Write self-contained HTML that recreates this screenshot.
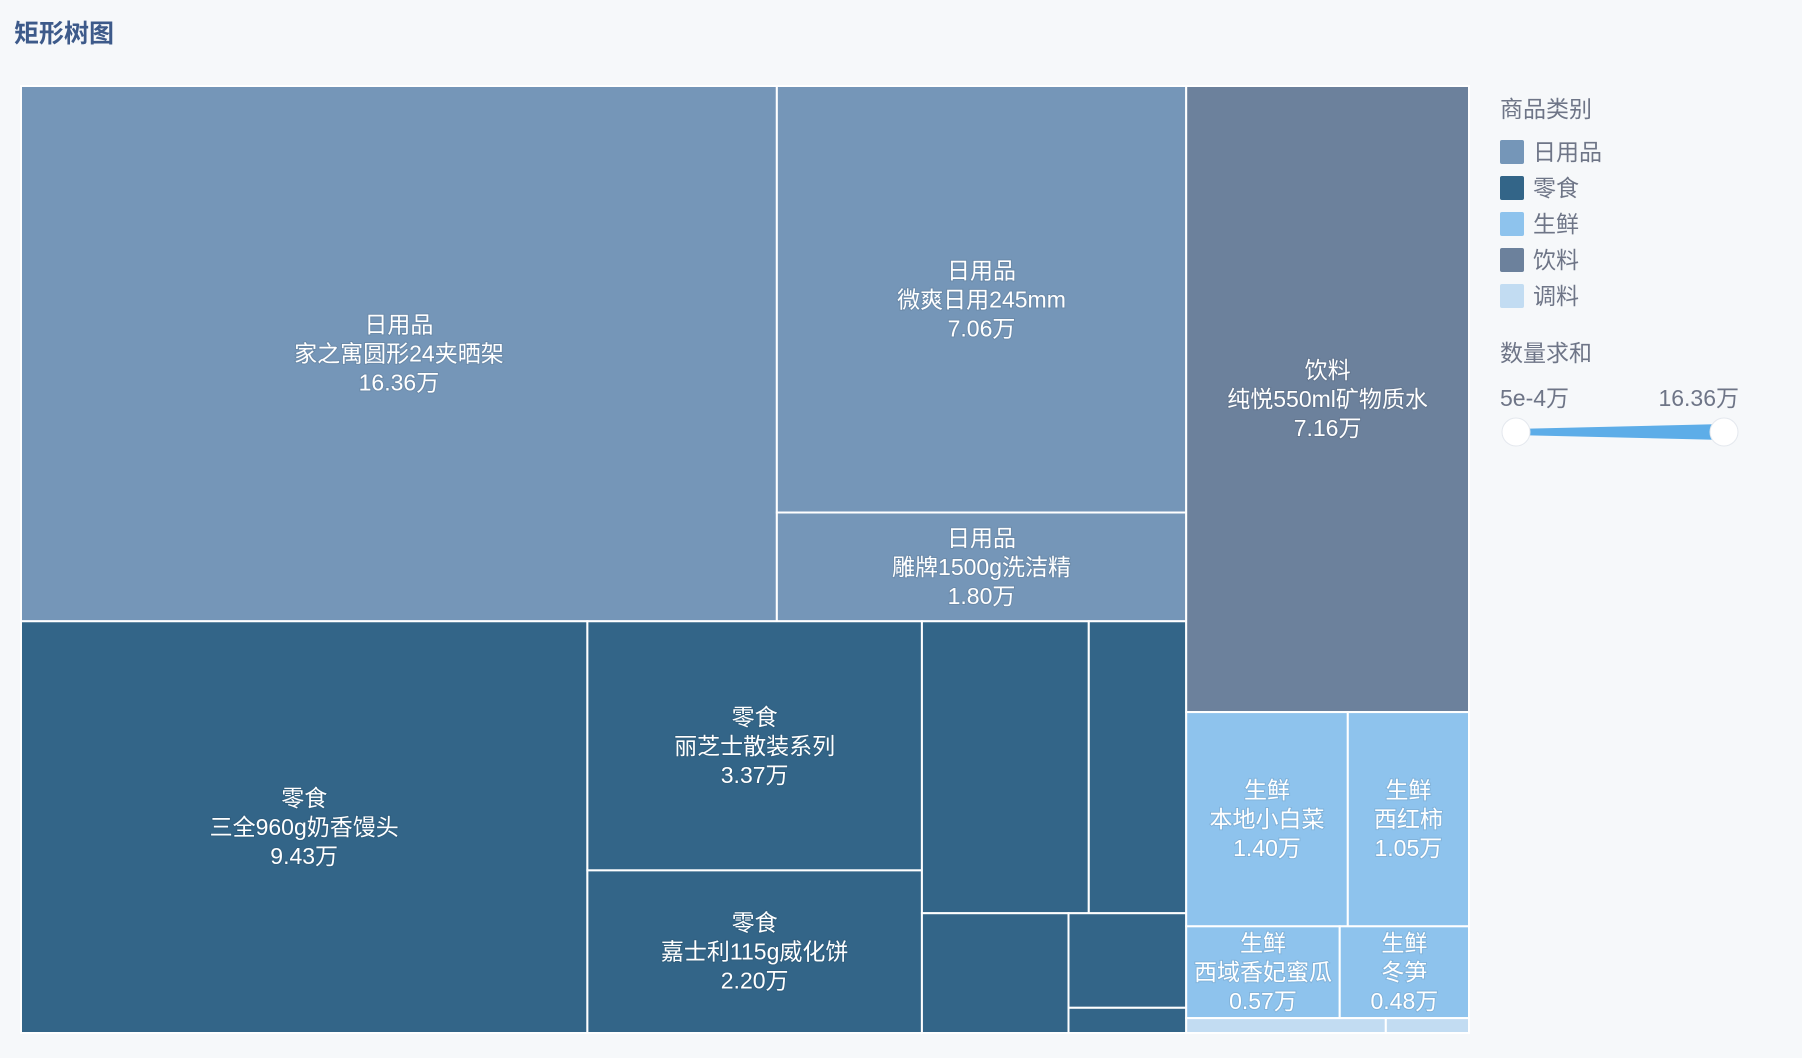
<!DOCTYPE html>
<html><head><meta charset="utf-8">
<style>
html,body{margin:0;padding:0;background:#f6f8fa;}
body{width:1802px;height:1058px;overflow:hidden;font-family:"Liberation Sans","Noto Sans CJK SC",sans-serif;}
svg{display:block}
</style></head>
<body>
<svg id="chart" width="1802" height="1058">
  <text x="14" y="42" font-size="25" font-weight="bold" fill="#3d5a8a">矩形树图</text>
  <g id="cells"></g>
  <g id="legend">
    <text x="1500" y="117" font-size="23" fill="#6e7587">商品类别</text>
  </g>
  <g>
    <text x="1500" y="361" font-size="23" fill="#6e7587">数量求和</text>
    <text x="1500" y="406" font-size="23" fill="#6e7587">5e-4万</text>
    <text x="1739" y="406" font-size="23" fill="#6e7587" text-anchor="end">16.36万</text>
    <polygon points="1516,429 1724,424 1724,440 1516,435" fill="#5dade8"/>
    <circle cx="1516" cy="432" r="14" fill="#fff" stroke="#e4e8ee" stroke-width="1"/>
    <circle cx="1724" cy="432" r="14" fill="#fff" stroke="#e4e8ee" stroke-width="1"/>
  </g>
</svg>
<script>
// data
const categories = ["日用品","零食","生鲜","饮料","调料"];
const categoryColors = ["#7596b8","#336588","#8ec3ed","#6c819c","#c2dcf2"];
const itemNames = ["家之寓圆形24夹晒架","微爽日用245mm","雕牌1500g洗洁精","三全960g奶香馒头","丽芝士散装系列","嘉士利115g威化饼","","","","","","纯悦550ml矿物质水","本地小白菜","西红柿","西域香妃蜜瓜","冬笋","",""];
const itemCats = [0,0,0,1,1,1,1,1,1,1,1,3,2,2,2,2,4,4];
const itemValues = [16.36,7.06,1.80,9.43,3.37,2.20,1.97,1.15,0.71,0.45,0.12,7.16,1.40,1.05,0.57,0.48,0.12,0.05];

// layout structure: 'h' = side by side, 'v' = stacked; leaves are item indexes
const tree = ['h',
  ['v',
    ['h', 0, ['v', 1, 2]],
    ['h', 3, ['v', 4, 5], ['v', ['h', 6, 7], ['h', 8, ['v', 9, 10]]]]
  ],
  ['v', 11, ['v', ['h', 12, 13], ['h', 14, 15]], ['h', 16, 17]]
];
const X0=21, Y0=86, X1=1469, Y1=1033;
function total(n){ return typeof n==='number' ? itemValues[n] : n.slice(1).reduce((s,c)=>s+total(c),0); }
const rects=[];
function layout(n,x,y,w,h){
  if(typeof n==='number'){ rects.push({i:n,x,y,w,h}); return; }
  const t=total(n); let off=0;
  n.slice(1).forEach(c=>{
    const f=total(c)/t;
    if(n[0]==='h'){ layout(c,x+off,y,w*f,h); off+=w*f; }
    else { layout(c,x,y+off,w,h*f); off+=h*f; }
  });
}
layout(tree,X0,Y0,X1-X0,Y1-Y0);
const NS="http://www.w3.org/2000/svg";
const g=document.getElementById('cells');
rects.forEach(r=>{
  const rect=document.createElementNS(NS,'rect');
  rect.setAttribute('x',r.x); rect.setAttribute('y',r.y);
  rect.setAttribute('width',Math.max(0,r.w)); rect.setAttribute('height',Math.max(0,r.h));
  rect.setAttribute('fill',categoryColors[itemCats[r.i]]);
  rect.setAttribute('stroke','#ffffff'); rect.setAttribute('stroke-width','2');
  
  
  g.appendChild(rect);
  if(itemNames[r.i]){
    const cx=r.x+r.w/2, cy=r.y+r.h/2;
    const lines=[categories[itemCats[r.i]], itemNames[r.i], itemValues[r.i].toFixed(2)+'万'];
    const t=document.createElementNS(NS,'text');
    t.setAttribute('text-anchor','middle'); t.setAttribute('font-size','23'); t.setAttribute('fill','#fff');
    t.setAttribute('style','paint-order:stroke;stroke:rgba(0,0,0,0.08);stroke-width:2px');
    
    
    lines.forEach((l,k)=>{
      const s=document.createElementNS(NS,'tspan');
      s.setAttribute('x',cx); s.setAttribute('y',cy+(k-1)*29+8);
      s.textContent=l; t.appendChild(s);
    });
    g.appendChild(t);
  }
});
const lg=document.getElementById('legend');
categories.forEach((c,k)=>{
  const y=152+k*36;
  const sw=document.createElementNS(NS,'rect');
  sw.setAttribute('x',1500); sw.setAttribute('y',y-12); sw.setAttribute('width',24); sw.setAttribute('height',24); sw.setAttribute('rx',2);
  sw.setAttribute('fill',categoryColors[k]);
  
  
  lg.appendChild(sw);
  const t=document.createElementNS(NS,'text');
  t.setAttribute('x',1533); t.setAttribute('y',y+8); t.setAttribute('font-size','23'); t.setAttribute('fill','#6e7587');
  t.textContent=c;
  
  
  lg.appendChild(t);
});
</script>
</body></html>
